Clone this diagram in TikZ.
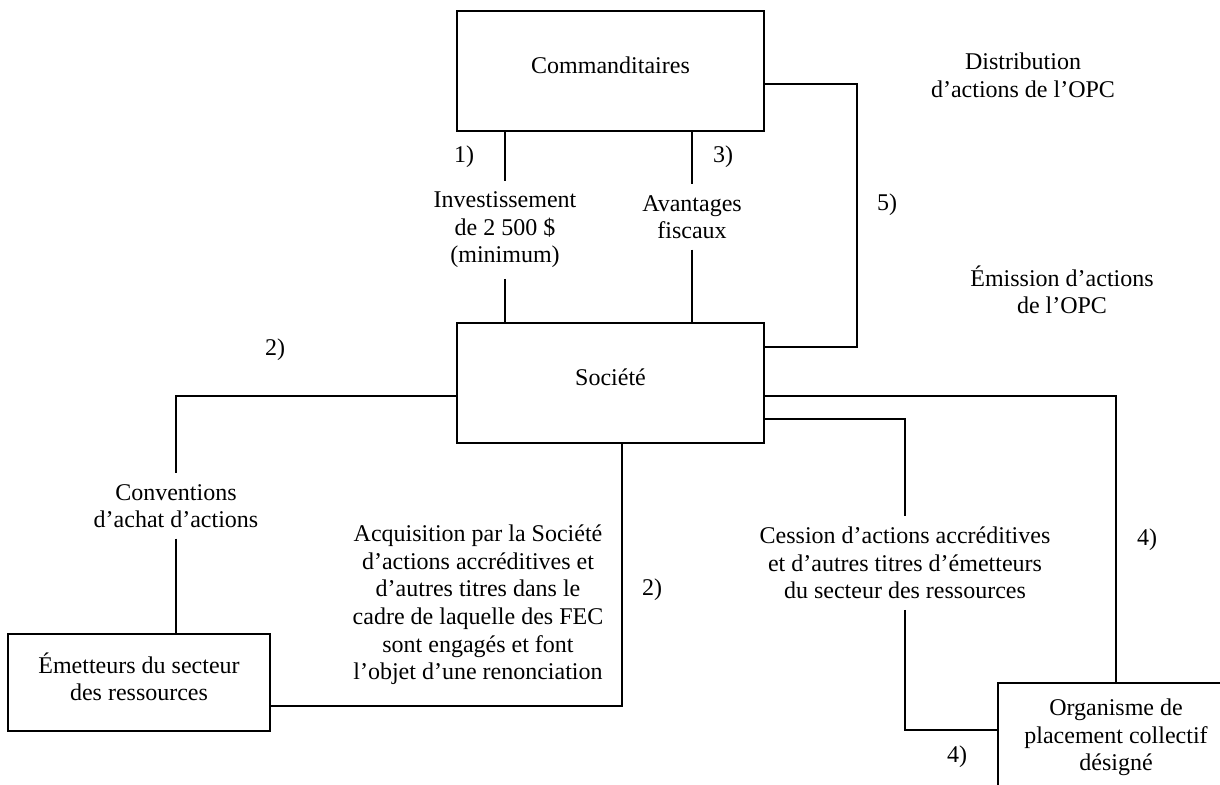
\documentclass[tikz,border=0pt]{standalone}
\usepackage{fontspec}
\setmainfont{Liberation Serif}

\begin{document}
\begin{tikzpicture}[x=0.5pt, y=-0.5pt, thick,
	every node/.style={font=\fontsize{12}{13.8}\selectfont, align=center},
	box/.style={draw, minimum width=153.5pt, inner sep=0pt, text depth=6pt},
	lbl/.style={inner xsep=2pt, inner ysep=5pt}]
		\clip (0,0) rectangle (1220,785);
		% boxes
		\node[box, minimum height=60pt] (comm) at (610.5,71) {Commanditaires};
		\node[box, minimum height=60pt] (soc) at (610.5,383) {Société};
		\node[box, minimum width=131pt, minimum height=48.5pt] (emet) at (139,682.5) {Émetteurs du secteur\\des ressources};
		\node[box, minimum width=118pt, minimum height=58pt] (opc) at (1116,741) {Organisme de\\placement collectif\\désigné};
		% texts on the links
		\node[lbl] (inv) at (505,230) {Investissement\\de 2~500~\$\\(minimum)};
		\node[lbl] (avant) at (692,217) {Avantages\\fiscaux};
		\node[lbl] (conv) at (176,506) {Conventions\\d’achat d’actions};
		\node[lbl] (cess) at (905,563) {Cession d’actions accréditives\\et d’autres titres d’émetteurs\\du secteur des ressources};
		\node (acq) at (478,605) {Acquisition par la Société\\d’actions accréditives et\\d’autres titres dans le\\cadre de laquelle des FEC\\sont engagés et font\\l’objet d’une renonciation};
		\node (dist) at (1023,75) {Distribution\\d’actions de l’OPC};
		\node (emis) at (1062,290) {Émission d’actions\\de l’OPC};
		% step numbers
		\node (n1) at (464,157) {1)};
		\node (n3) at (723,157) {3)};
		\node (n5) at (887,205) {5)};
		\node (n2a) at (275,350) {2)};
		\node (n2b) at (652,590) {2)};
		\node (n4a) at (1147,540) {4)};
		\node (n4b) at (957,757) {4)};
		% links
		\draw (comm.south -| inv) -- (inv.north);
		\draw (inv.south) -- (soc.north -| inv);
		\draw (comm.south -| avant) -- (avant.north);
		\draw (avant.south) -- (soc.north -| avant);
		\draw (comm.east |- 0,84) -| (857,347) -- (soc.east |- 0,347);
		\draw (soc.west |- 0,396) -| (conv.north);
		\draw (conv.south) -- (emet.north -| conv);
		\draw (emet.east |- 0,706) -| (soc.south -| 622,0);
		\draw (soc.east |- 0,396) -| (opc.north);
		\draw (soc.east |- 0,419) -| (cess.north);
		\draw (cess.south) |- (opc.west |- 0,730);
	\end{tikzpicture}
\end{document}
